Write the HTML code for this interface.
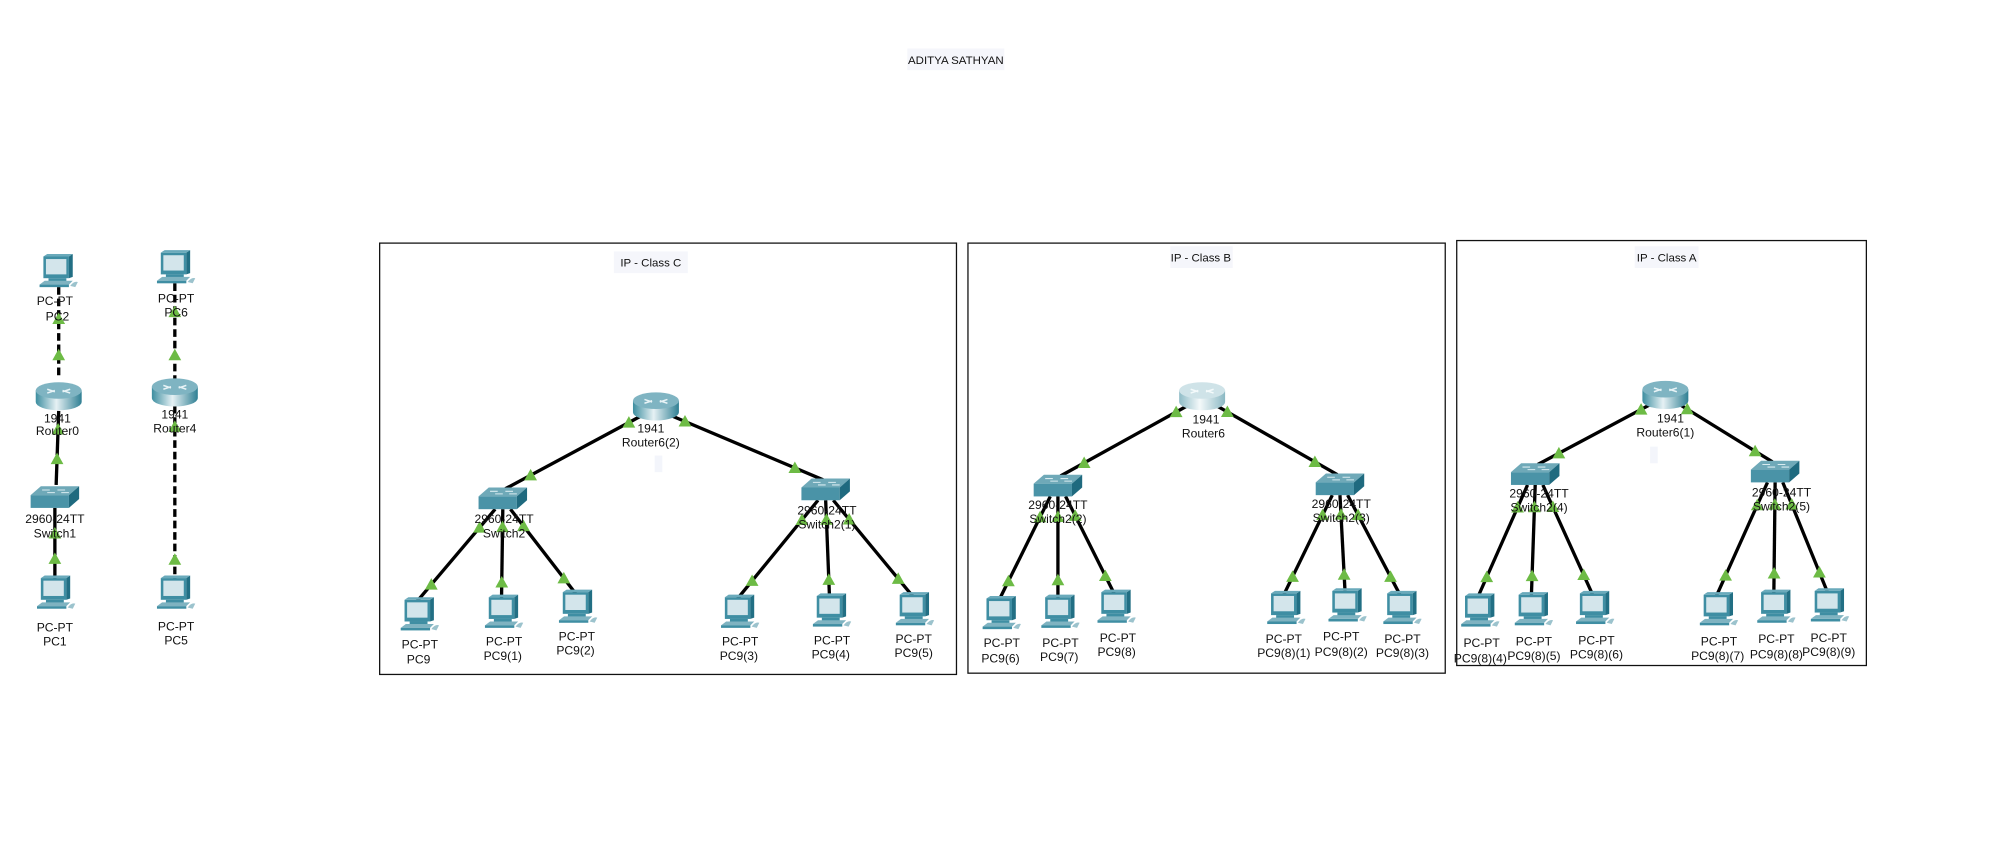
<!DOCTYPE html>
<html><head><meta charset="utf-8">
<style>
html,body{margin:0;padding:0;background:#fff;}
#wrap{width:2001px;height:858px;overflow:hidden;position:relative;background:#fff;}
#stage{position:absolute;left:0;top:0;width:1568px;height:673px;transform:scale(1.27615);transform-origin:0 0;}
text{font-family:"Liberation Sans",Arial,sans-serif;font-size:9.5px;fill:#111;text-anchor:middle;}
</style></head><body>
<div id="wrap"><div id="stage">
<svg id="svg" width="1568" height="673" viewBox="0 0 1568 673" xmlns="http://www.w3.org/2000/svg">
<defs>
<linearGradient id="rg" x1="0" x2="1" y1="0" y2="0">
<stop offset="0" stop-color="#3d8ea0"/><stop offset="0.45" stop-color="#e6f1f4"/><stop offset="1" stop-color="#2f7f93"/>
</linearGradient>
<linearGradient id="rgl" x1="0" x2="1" y1="0" y2="0">
<stop offset="0" stop-color="#8fbcc7"/><stop offset="0.45" stop-color="#f4f9fa"/><stop offset="1" stop-color="#8ab8c3"/>
</linearGradient>
<g id="pc">
<rect x="-11" y="-14" width="20" height="17" fill="#3f8ea3"/>
<polygon points="9,-14 12,-16 12,2 9,3" fill="#226f84"/>
<polygon points="-11,-14 -8,-16 12,-16 9,-14" fill="#6aaabb"/>
<rect x="-9" y="-12" width="16" height="12" fill="#d3e5eb"/>
<rect x="-7" y="3" width="14" height="3" fill="#3f8ea3"/>
<polygon points="-14,8 -10,5 12,5 9,8" fill="#7fb3c1"/>
<rect x="-14" y="8" width="23" height="2" fill="#3f8ea3"/>
<path d="M10,9 q3,-4 6,-3 l-2,4 z" fill="#9cc3cd"/>
</g>
<g id="router">
<path d="M-18,-4 v9 a18,6.5 0 0 0 36,0 v-9 z" fill="url(#rg)"/>
<ellipse cx="0" cy="-4" rx="18" ry="6.5" fill="#7fb4c2"/>
<path d="M-9,-5 l6,2 M9,-5 l-6,2 M-9,-2 l6,-2 M9,-2 l-6,-2" stroke="#e8f3f6" stroke-width="1.2"/>
</g>
<g id="routerl">
<path d="M-18,-4 v9 a18,6.5 0 0 0 36,0 v-9 z" fill="url(#rgl)"/>
<ellipse cx="0" cy="-4" rx="18" ry="6.5" fill="#cfe3e8"/>
<path d="M-9,-5 l6,2 M9,-5 l-6,2 M-9,-2 l6,-2 M9,-2 l-6,-2" stroke="#f4fafb" stroke-width="1.2"/>
</g>
<g id="switch">
<polygon points="-19,-2 -11,-9 19,-9 11,-2" fill="#6fa9b8"/>
<rect x="-19" y="-2" width="30" height="10" fill="#4a93a7"/>
<polygon points="11,-2 19,-9 19,1 11,8" fill="#1f6a7f"/>
<path d="M-10,-6 h6 M2,-6 h6 M-6,-4 h6 M5,-4 h6" stroke="#d8ebf0" stroke-width="0.8"/>
</g>
<polygon id="tri" points="0,-5 5,4 -5,4" fill="#6dbb45"/>
</defs>

<!-- title -->
<rect x="711" y="38" width="76" height="17" fill="#f5f6fb"/>
<text x="749" y="50" style="font-size:9px">ADITYA SATHYAN</text>

<!-- boxes -->
<rect x="297.5" y="190.5" width="452" height="338" fill="none" stroke="#111" stroke-width="1"/>
<rect x="758.5" y="190.5" width="374" height="337" fill="none" stroke="#111" stroke-width="1"/>
<rect x="1141.5" y="188.5" width="321" height="333" fill="none" stroke="#111" stroke-width="1"/>
<rect x="481" y="197" width="58" height="17" fill="#f5f6fb"/>
<text x="510" y="209" style="font-size:9px">IP - Class C</text>
<rect x="917" y="193" width="49" height="17" fill="#f5f6fb"/>
<text x="941" y="205" style="font-size:9px">IP - Class B</text>
<rect x="1281" y="193" width="50" height="17" fill="#f5f6fb"/>
<text x="1306" y="205" style="font-size:9px">IP - Class A</text>
<rect x="513" y="357" width="6" height="13" fill="#f3f5fb"/>
<rect x="1293" y="350" width="6" height="13" fill="#f3f5fb"/>

<g id="links"></g>
<g id="nodes"></g>
<g id="tris"></g>

<g id="labels">
<text x="43" y="239">PC-PT</text><text x="45" y="251">PC2</text>
<text x="45" y="331">1941</text><text x="45" y="341">Router0</text>
<text x="43" y="410">2960-24TT</text><text x="43" y="421">Switch1</text>
<text x="43" y="495">PC-PT</text><text x="43" y="506">PC1</text>
<text x="138" y="237">PC-PT</text><text x="138" y="248">PC6</text>
<text x="137" y="328">1941</text><text x="137" y="339">Router4</text>
<text x="138" y="494">PC-PT</text><text x="138" y="505">PC5</text>

<text x="510" y="339">1941</text><text x="510" y="350">Router6(2)</text>
<text x="395" y="410">2960-24TT</text><text x="395" y="421">Switch2</text>
<text x="648" y="403">2960-24TT</text><text x="648" y="414">Switch2(1)</text>
<text x="329" y="508">PC-PT</text><text x="328" y="520">PC9</text>
<text x="395" y="506">PC-PT</text><text x="394" y="517">PC9(1)</text>
<text x="452" y="502">PC-PT</text><text x="451" y="513">PC9(2)</text>
<text x="580" y="506">PC-PT</text><text x="579" y="517">PC9(3)</text>
<text x="652" y="505">PC-PT</text><text x="651" y="516">PC9(4)</text>
<text x="716" y="504">PC-PT</text><text x="716" y="515">PC9(5)</text>

<text x="945" y="332">1941</text><text x="943" y="343">Router6</text>
<text x="829" y="399">2960-24TT</text><text x="829" y="410">Switch2(2)</text>
<text x="1051" y="398">2960-24TT</text><text x="1051" y="409">Switch2(3)</text>
<text x="785" y="507">PC-PT</text><text x="784" y="519">PC9(6)</text>
<text x="831" y="507">PC-PT</text><text x="830" y="518">PC9(7)</text>
<text x="876" y="503">PC-PT</text><text x="875" y="514">PC9(8)</text>
<text x="1006" y="504">PC-PT</text><text x="1006" y="515">PC9(8)(1)</text>
<text x="1051" y="502">PC-PT</text><text x="1051" y="514">PC9(8)(2)</text>
<text x="1099" y="504">PC-PT</text><text x="1099" y="515">PC9(8)(3)</text>

<text x="1309" y="331">1941</text><text x="1305" y="342">Router6(1)</text>
<text x="1206" y="390">2960-24TT</text><text x="1206" y="401">Switch2(4)</text>
<text x="1396" y="389">2960-24TT</text><text x="1396" y="400">Switch2(5)</text>
<text x="1161" y="507">PC-PT</text><text x="1160" y="519">PC9(8)(4)</text>
<text x="1202" y="506">PC-PT</text><text x="1202" y="517">PC9(8)(5)</text>
<text x="1251" y="505">PC-PT</text><text x="1251" y="516">PC9(8)(6)</text>
<text x="1347" y="506">PC-PT</text><text x="1346" y="517">PC9(8)(7)</text>
<text x="1392" y="504">PC-PT</text><text x="1392" y="516">PC9(8)(8)</text>
<text x="1433" y="503">PC-PT</text><text x="1433" y="514">PC9(8)(9)</text>
</g>
</svg>
</div></div>
<script>
var NS="http://www.w3.org/2000/svg";
function el(p,t,a){var e=document.createElementNS(NS,t);for(var k in a)e.setAttribute(k,a[k]);document.getElementById(p).appendChild(e);return e;}
function node(type,x,y){var e=el('nodes','use',{x:x,y:y});e.setAttribute('href','#'+type);}
function tri(x,y){var e=el('tris','use',{x:x,y:y});e.setAttribute('href','#tri');}
function link(x1,y1,x2,y2,dash,t1,t2){
 var a={x1:x1,y1:y1,x2:x2,y2:y2,stroke:'#000','stroke-width':2.6};
 if(dash)a['stroke-dasharray']='6,3';
 el('links','line',a);
 t1=t1||0.15;t2=t2||0.85;
 tri(x1+(x2-x1)*t1,y1+(y2-y1)*t1);tri(x1+(x2-x1)*t2,y1+(y2-y1)*t2);
}
link(46,225,46,296,true,0.35,0.75); link(46,322,44,380,false,0.25,0.65); link(43,398,43,455,false,0.35,0.7);
link(137,222,137,297,true,0.3,0.75); link(137,318,137,455,true,0.12,0.88);
node('pc',45,215);node('router',46,310);node('switch',43,390);node('pc',43,467);
node('pc',137,212);node('router',137,307);node('pc',137,467);

function tree(r,rl,s1,s2,pcs1,pcs2){
 link(r[0]-8,r[1]+6,s1[0]+2,s1[1]-8,false,0.12,0.82);
 link(r[0]+8,r[1]+6,s2[0]-2,s2[1]-8,false,0.12,0.82);
 [[s1,pcs1],[s2,pcs2]].forEach(function(g){
  var s=g[0];
  g[1].forEach(function(p,i){
   var sx=s[0]+(i-1)*6;
   link(sx,s[1]+8,p[0]-1,p[1]-13,false,0.2,0.82);
   node('pc',p[0],p[1]);
  });
  node('switch',s[0],s[1]);
 });
 node(rl?'routerl':'router',r[0],r[1]);
}
tree([514,318],false,[394,391],[647,384],[[328,484],[394,482],[452,478]],[[579,482],[651,481],[716,480]]);
tree([942,310],true,[829,381],[1050,380],[[784,483],[830,482],[874,478]],[[1007,479],[1055,477],[1098,479]]);
tree([1305,309],false,[1203,372],[1391,370],[[1159,481],[1201,480],[1249,479]],[[1346,480],[1391,478],[1433,477]]);
</script>
</body></html>
